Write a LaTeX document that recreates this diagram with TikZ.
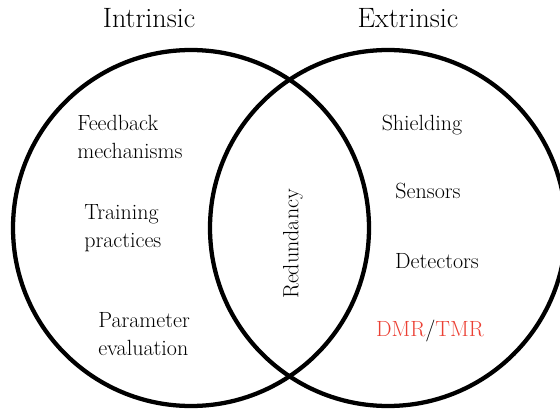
\documentclass[tikz,border=0pt]{standalone}
\usepackage{xcolor}
\usepackage{tikz}
\definecolor{dmrred}{RGB}{235,64,52}
\tikzset{
  ring/.style={line width=3.2pt},
  head/.style={inner sep=0.75pt, font=\fontsize{21}{24}\selectfont},
  item/.style={inner sep=0.75pt, align=left, font=\fontsize{16.5}{21}\selectfont},
}

\begin{document}
\begin{tikzpicture}[x=0.75pt,y=0.75pt,yscale=-1,xscale=1]
\useasboundingbox (0,0) rectangle (560,410);

%Shape: Circle [left]
\draw [ring] (191,228) circle [radius=178];
%Shape: Circle [right]
\draw [ring] (388,228) circle [radius=178];

% Text Node
\node [head] (intr) at (149,18) {Intrinsic};
% Text Node
\node [head] (extr) at (408,18) {Extrinsic};

% Text Node
\node [item, anchor=west] (feed) at (76,137) {Feedback\\mechanisms};
% Text Node
\node [item, anchor=west] (train) at (83,228) {Training\\practices};
% Text Node
\node [item, anchor=west] (param) at (97,334) {Parameter\\evaluation};

% Text Node
\node [item, rotate=90] (redun) at (293,244) {Redundancy};

% Text Node
\node [item] (shield) at (422,125) {Shielding};
% Text Node
\node [item] (sens) at (428,191) {Sensors};
% Text Node
\node [item] (detect) at (437,261) {Detectors};
% Text Node
\node [item] (dmr) at (430,331) {\textcolor{dmrred}{DMR}/\textcolor{dmrred}{TMR}};

\end{tikzpicture}
\end{document}
